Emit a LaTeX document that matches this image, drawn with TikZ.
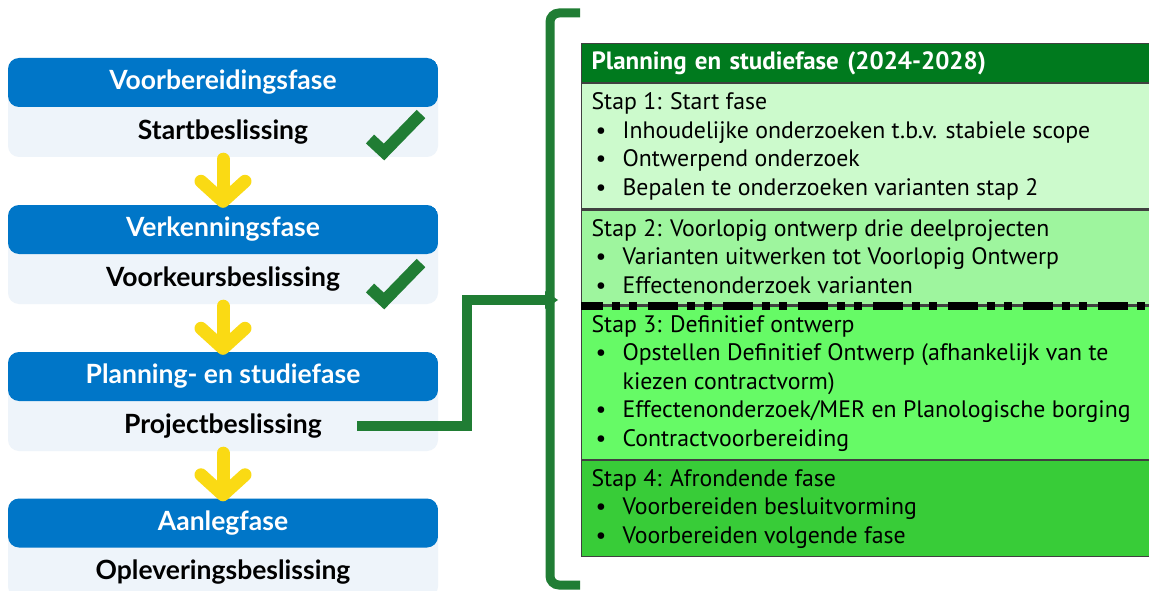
\documentclass[tikz,border=0pt]{standalone}
\usepackage{fontspec}
\setmainfont{PT Sans}
\newfontfamily\fasefont{Lato}
\usetikzlibrary{arrows.meta,positioning}

\definecolor{rijksblauw}{RGB}{0,118,200}
\definecolor{vaklicht}{RGB}{238,244,250}
\definecolor{pijlgeel}{RGB}{250,218,20}
\definecolor{vinkgroen}{RGB}{32,125,52}
\definecolor{kopgroen}{RGB}{0,122,30}
\definecolor{stapeen}{RGB}{204,250,204}
\definecolor{staptwee}{RGB}{158,245,158}
\definecolor{stapdrie}{RGB}{102,250,102}
\definecolor{stapvier}{RGB}{56,204,56}

% bullet line
\newcommand{\bul}[1]{\par\noindent\makebox[31pt][l]{\hspace{4pt}\textbullet}#1}
% continued bullet line
\newcommand{\verder}[1]{\par\noindent\hspace*{31pt}#1}
% contents of one step, fixed height, top aligned
\newcommand{\stapvak}[2]{\begin{minipage}[c][#1][t]{548pt}\raggedright\fontsize{23.8}{28.5}\selectfont\rule{0pt}{26pt}#2\end{minipage}}

\begin{document}
\begin{tikzpicture}[x=1pt, y=-1pt,
    phasebox/.style={minimum width=430pt, minimum height=99pt, inner sep=0pt, fill=vaklicht, rounded corners=11pt,
        path picture={\fill[rijksblauw] (path picture bounding box.north west) rectangle ([yshift=-49pt]path picture bounding box.north east);}},
    phasename/.style={minimum width=430pt, minimum height=49pt, inner sep=0pt, text=white, font=\fasefont\bfseries\fontsize{26.5}{30}\selectfont},
    decision/.style={minimum width=430pt, minimum height=50pt, inner sep=0pt, text=black, font=\fasefont\bfseries\fontsize{26.5}{30}\selectfont},
    flowarrow/.style={draw=pijlgeel, line width=13pt, line cap=round, -{Straight Barb[length=20pt, width=44pt, round]}},
    checkmark/.style={draw=vinkgroen, line width=12pt, line cap=butt, line join=miter},
    haaklijn/.style={draw=vinkgroen, line width=9pt, rounded corners=9pt},
    linkline/.style={draw=vinkgroen, line width=10pt},
    kopvak/.style={anchor=north west, fill=kopgroen, draw=black!75, line width=1.2pt, text=white, text width=548pt,
        minimum height=39pt, inner xsep=10pt, inner ysep=0pt, align=left, font=\fontsize{25}{28}\selectfont\bfseries},
    stapbox/.style={anchor=north west, fill=#1, draw=black!75, line width=1.2pt, inner xsep=10pt, inner ysep=0pt},
    stapgrens/.style={draw=black, line width=8pt, dash pattern=on 30pt off 9pt on 8pt off 9pt on 8pt off 11pt, dash phase=8pt}]

    \useasboundingbox (0,0) rectangle (1149,591);
    \fill[white] (0,0) rectangle (1149,591);
    \clip (0,0) rectangle (1149,591);

    % phases
    \node[phasebox] (box1) at (223,107.5) {};
    \node[phasename, anchor=north] (hdr1) at (box1.north) {Voorbereidingsfase};
    \node[decision, anchor=south] (dec1) at (box1.south) {Startbeslissing};

    \node[phasebox] (box2) at (223,254.5) {};
    \node[phasename, anchor=north] (hdr2) at (box2.north) {Verkenningsfase};
    \node[decision, anchor=south] (dec2) at (box2.south) {Voorkeursbeslissing};

    \node[phasebox] (box3) at (223,401.5) {};
    \node[phasename, anchor=north] (hdr3) at (box3.north) {Planning- en studiefase};
    \node[decision, anchor=south] (dec3) at (box3.south) {Projectbeslissing};

    \node[phasebox] (box4) at (223,548) {};
    \node[phasename, anchor=north] (hdr4) at (box4.north) {Aanlegfase};
    \node[decision, anchor=south] (dec4) at (box4.south) {Opleveringsbeslissing};

    \draw[flowarrow] ([yshift=-2pt]dec1.south) -- ([yshift=-3pt]hdr2.north);
    \draw[flowarrow] ([yshift=-2pt]dec2.south) -- ([yshift=-3pt]hdr3.north);
    \draw[flowarrow] ([yshift=-2pt]dec3.south) -- ([yshift=-3pt]hdr4.north);

    \draw[checkmark] (370,139) -- (384,152) -- (421,114);
    \draw[checkmark] (370,288) -- (384,301) -- (421,263);

    % bracket and link
    \coordinate (haakpunt) at (550,300);
    \draw[haaklijn] (580,13) -- (550,13) -- (550,585) -- (580,585);
    \fill[vinkgroen] (545,291) -- (558,300) -- (545,309) -- cycle;
    \draw[linkline] ([xshift=-81pt]dec3.east) -- ++(110,0) |- (haakpunt);

    % table
    \node[kopvak] (kop) at (581,43) {Planning en studiefase (2024-2028)};
    \node[stapbox=stapeen] (stap1) at (kop.south west) {\stapvak{125pt}{Stap 1: Start fase
        \bul{Inhoudelijke onderzoeken t.b.v. stabiele scope}
        \bul{Ontwerpend onderzoek}
        \bul{Bepalen te onderzoeken varianten stap 2}}};
    \node[stapbox=staptwee] (stap2) at (stap1.south west) {\stapvak{95pt}{Stap 2: Voorlopig ontwerp drie deelprojecten
        \bul{Varianten uitwerken tot Voorlopig Ontwerp}
        \bul{Effectenonderzoek varianten}}};
    \node[stapbox=stapdrie] (stap3) at (stap2.south west) {\stapvak{153pt}{Stap 3: Definitief ontwerp
        \bul{Opstellen Definitief Ontwerp (afhankelijk van te}
        \verder{kiezen contractvorm)}
        \bul{Effectenonderzoek/MER en Planologische borging}
        \bul{Contractvoorbereiding}}};
    \node[stapbox=stapvier] (stap4) at (stap3.south west) {\stapvak{96pt}{Stap 4: Afrondende fase
        \bul{Voorbereiden besluitvorming}
        \bul{Voorbereiden volgende fase}}};
    \draw[stapgrens] (stap3.north west) -- (stap3.north east);

\end{tikzpicture}
\end{document}
